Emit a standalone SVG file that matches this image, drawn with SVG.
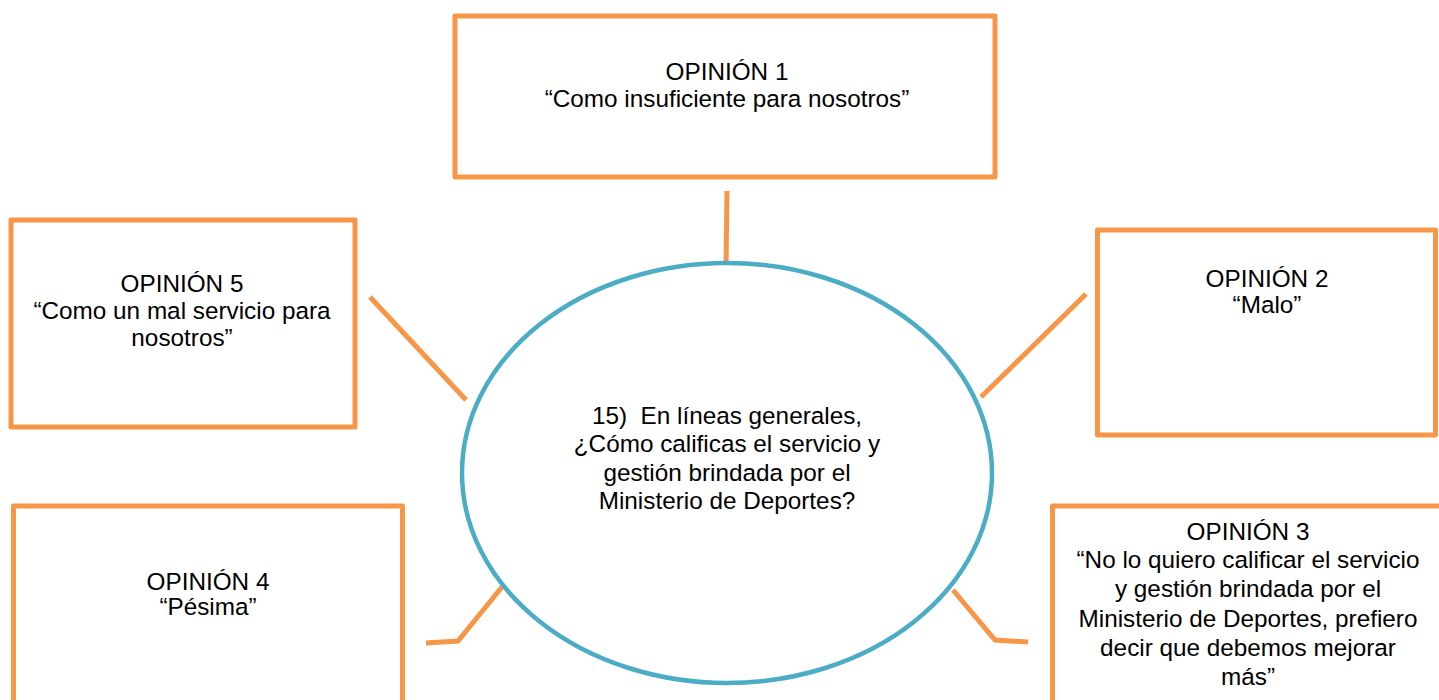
<svg xmlns="http://www.w3.org/2000/svg" width="1439" height="700" viewBox="0 0 1439 700">
<style>
.box{fill:#fff;stroke:#F79646;stroke-width:5;stroke-linejoin:round}
.conn{fill:none;stroke:#F79646;stroke-width:5;stroke-linejoin:miter}
.hub{fill:#fff;stroke:#4BACC6;stroke-width:4.5}
text{font-family:"Liberation Sans",Arial,sans-serif;font-size:24.3px;fill:#000;text-anchor:middle}
</style>
<rect width="1439" height="700" fill="#fff"/>
<g id="connectors">
<line class="conn" x1="727" y1="191" x2="726" y2="268"/>
<line class="conn" x1="370" y1="297" x2="466" y2="400"/>
<line class="conn" x1="1086" y1="294" x2="981" y2="397"/>
<polyline class="conn" points="426,643 458,641 502,587"/>
<polyline class="conn" points="953,590 995,640 1028,642"/>
</g>
<g id="hub">
<ellipse class="hub" cx="727" cy="473" rx="265" ry="210"/>
<text x="727" y="424">15)&#160; En líneas generales,</text>
<text x="727" y="452">¿Cómo calificas el servicio y</text>
<text x="727" y="481">gestión brindada por el</text>
<text x="727" y="509">Ministerio de Deportes?</text>
</g>
<g id="op1">
<rect class="box" x="455" y="16" width="540" height="161"/>
<text x="727" y="80">OPINIÓN 1</text>
<text x="727" y="107">“Como insuficiente para nosotros”</text>
</g>
<g id="op5">
<rect class="box" x="11" y="220" width="344" height="207"/>
<text x="182" y="292">OPINIÓN 5</text>
<text x="182" y="319">“Como un mal servicio para</text>
<text x="182" y="346">nosotros”</text>
</g>
<g id="op2">
<rect class="box" x="1097.5" y="230" width="338" height="205"/>
<text x="1267" y="287">OPINIÓN 2</text>
<text x="1267" y="313">“Malo”</text>
</g>
<g id="op4">
<rect class="box" x="13.5" y="506" width="389" height="220"/>
<text x="208" y="590">OPINIÓN 4</text>
<text x="208" y="615">“Pésima”</text>
</g>
<g id="op3">
<rect class="box" x="1052.5" y="506" width="420" height="220"/>
<text x="1248" y="540">OPINIÓN 3</text>
<text x="1248" y="568">“No lo quiero calificar el servicio</text>
<text x="1248" y="597">y gestión brindada por el</text>
<text x="1248" y="627">Ministerio de Deportes, prefiero</text>
<text x="1248" y="656">decir que debemos mejorar</text>
<text x="1248" y="685">más”</text>
</g>
</svg>
